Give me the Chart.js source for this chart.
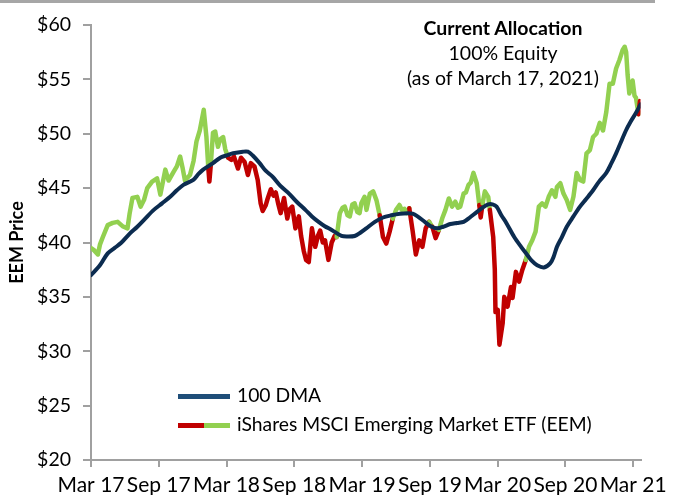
<!DOCTYPE html>
<html>
<head>
<meta charset="utf-8">
<script src="https://cdn.jsdelivr.net/npm/chart.js@4.4.0/dist/chart.umd.min.js"></script>
<style>
  body { margin: 0; background: #fff; font-family: Lato, "Open Sans", sans-serif; color: #000; }
  #wrap { position: relative; width: 673px; height: 495px; overflow: hidden; }
  #topline { position: absolute; left: 0; top: 0; width: 655px; height: 3px; background: #a6a6a6; }
  #note { position: absolute; left: 373px; top: 15px; width: 260px; text-align: center; font-size: 19.5px; line-height: 25px; }
  #note b { font-weight: 700; font-size: 19.5px; }
  .leg { position: absolute; left: 178px; font-size: 19.3px; line-height: 22px; white-space: nowrap; }
  .sw { display: inline-block; width: 52px; height: 5px; vertical-align: middle; margin-right: 7px; position: relative; top: -1px; }
</style>
</head>
<body>
<div id="wrap">
  <canvas id="chartEEM"></canvas>
  <div id="topline"></div>
  <div id="note"><b>Current Allocation</b><br>100% Equity<br>(as of March 17, 2021)</div>
  <div class="leg" style="top:384px"><span class="sw" style="background:#1f4e79"></span>100 DMA</div>
  <div class="leg" style="top:413px"><span class="sw" style="background:linear-gradient(to right,#c00000 50%,#92d050 50%)"></span>iShares MSCI Emerging Market ETF (EEM)</div>
</div>
<script>
// x = months since Mar 2017
const tickMonths = [0, 6, 12, 18, 24, 30, 36, 42, 48];
const tickLabels = ['Mar 17', 'Sep 17', 'Mar 18', 'Sep 18', 'Mar 19', 'Sep 19', 'Mar 20', 'Sep 20', 'Mar 21'];

const priceMonths = [
  0, 0.26, 0.61, 0.79, 1.05, 1.48, 1.92, 2.36, 2.79, 3.23, 3.41, 3.67, 4.10, 4.39, 4.69, 4.98,
  5.41, 5.85, 6.14, 6.58, 6.87, 7.31, 7.60, 7.89, 8.12, 8.32, 8.76, 9.08, 9.34, 9.63, 9.98, 10.22,
  10.39, 10.48, 10.61, 10.80, 11.00, 11.24, 11.44, 11.70, 11.88, 12.14, 12.43, 12.66, 13.01, 13.28,
  13.60, 13.89, 14.15, 14.47, 14.76, 15.02, 15.20, 15.46, 15.63, 15.92, 16.16, 16.36, 16.59, 16.79,
  17.09, 17.38, 17.55, 17.82, 18.10, 18.40, 18.60, 18.84, 19.04, 19.28, 19.56, 19.85, 20.09, 20.29,
  20.52, 20.72, 21.02, 21.31, 21.57, 21.75, 22.03, 22.27, 22.47, 22.71, 22.91, 23.14, 23.34, 23.58,
  23.78, 23.93, 24.22, 24.39, 24.69, 24.98, 25.27, 25.56, 25.85, 26.14, 26.44, 26.72, 27.01, 27.31,
  27.51, 27.75, 27.95, 28.18, 28.47, 28.76, 29.06, 29.34, 29.63, 29.93, 30.22, 30.51, 30.80, 31.09,
  31.38, 31.68, 31.97, 32.25, 32.49, 32.69, 32.99, 33.19, 33.42, 33.62, 33.86, 34.15, 34.38, 34.50,
  34.67, 34.87, 35.17, 35.31, 35.61, 35.75, 35.81, 36.01, 36.16, 36.29, 36.45, 36.59, 36.88, 37.18,
  37.32, 37.62, 37.90, 38.19, 38.49, 38.78, 39.07, 39.36, 39.65, 39.94, 40.24, 40.52, 40.81, 41.11,
  41.25, 41.55, 41.83, 42.12, 42.42, 42.71, 43.00, 43.29, 43.58, 43.87, 44.17, 44.45, 44.74, 45.04,
  45.33, 45.62, 45.91, 46.20, 46.49, 46.79, 47.07, 47.25, 47.38, 47.51, 47.66, 47.95, 48.12, 48.25,
  48.47, 48.60
];
const priceValues = [
  39.5, 39.3, 38.9, 39.8, 40.5, 41.6, 41.8, 41.9, 41.5, 41.3, 42.6, 44.1, 44.2, 43.3, 43.9, 45.0,
  45.6, 45.9, 44.4, 46.7, 45.7, 46.5, 47.0, 47.9, 46.8, 45.7, 46.2, 47.5, 49.3, 50.3, 52.2, 49.7,
  46.8, 45.6, 47.2, 50.1, 50.2, 48.8, 49.5, 49.7, 48.6, 47.8, 47.6, 47.9, 46.8, 47.8,
  47.4, 46.2, 47.3, 47.0, 45.75, 43.6, 42.9, 43.4, 44.0, 44.9, 44.3, 44.6, 43.5, 42.7,
  44.1, 42.2, 43.0, 43.3, 41.3, 42.4, 40.6, 39.2, 38.4, 38.2, 41.3, 39.6, 40.6, 41.1,
  40.0, 40.2, 38.4, 40.0, 40.6, 40.5, 42.7, 43.2, 43.3, 42.5, 42.4, 43.5, 43.6, 42.8,
  42.7, 43.6, 44.2, 43.0, 44.5, 44.7, 43.9, 42.5, 40.5, 39.9, 41.0, 42.2, 43.0, 43.45,
  43.0, 43.1, 42.7, 43.15, 41.1, 38.9, 40.2, 39.6, 41.3, 41.9, 41.45, 40.4, 41.15, 42.2,
  43.0, 44.05, 43.3, 43.75, 43.2, 43.3, 44.5, 44.6, 45.3, 45.5, 46.4, 45.45, 43.45, 42.3,
  43.6, 44.7, 44.2, 43.0, 40.5, 37.5, 33.6, 33.8, 30.6, 31.5, 32.6, 35.0, 34.1, 35.9,
  34.9, 37.3, 36.4, 37.5, 38.4, 39.6, 40.2, 41.0, 43.3, 43.6, 43.3, 44.2, 44.8, 44.2,
  45.1, 45.45, 44.5, 43.9, 43.0, 44.2, 46.4, 45.75, 45.6, 48.2, 48.5, 49.7, 50.0, 51.0,
  50.3, 52.0, 54.6, 54.6, 56.0, 56.8, 57.7, 58.0, 57.5, 55.4, 53.7, 54.9, 53.5, 53.3,
  51.8, 53.0
];

const dmaMonths = [
  0, 0.79, 1.48, 2.10, 2.65, 3.41, 4.10, 4.80, 5.56, 6.29, 7.01, 7.60, 8.18, 9.06, 9.52, 9.93,
  10.80, 11.44, 11.97, 12.58, 13.45, 13.89, 14.32, 14.93, 15.46, 16.07, 16.77, 17.53, 18.25, 18.98,
  19.56, 20.15, 20.70, 21.31, 22.18, 22.79, 23.34, 23.84, 24.37, 25.13, 25.85, 26.58, 27.34, 28.03,
  28.47, 28.91, 29.43, 30.07, 30.66, 31.18, 31.82, 32.40, 32.99, 33.54, 34.15, 34.67, 35.17, 35.55,
  35.90, 36.33, 36.77, 37.47, 38.08, 38.63, 39.04, 39.50, 40.09, 40.67, 40.96, 41.25, 41.69, 42.12,
  42.71, 43.29, 43.84, 44.45, 44.98, 45.62, 46.03, 46.49, 46.90, 47.36, 47.77, 48.24, 48.65
];
const dmaValues = [
  37.0, 37.9, 39.0, 39.5, 39.95, 40.8, 41.45, 42.2, 43.0, 43.6, 44.2, 44.8, 45.3, 45.75, 46.3, 46.7,
  47.3, 47.8, 48.0, 48.2, 48.35, 48.35, 48.0, 47.3, 46.6, 46.05, 45.2, 44.5, 43.7, 43.0,
  42.4, 41.9, 41.5, 41.15, 40.6, 40.55, 40.6, 40.9, 41.3, 41.9, 42.3, 42.5, 42.65, 42.7,
  42.65, 42.4, 42.0, 41.5, 41.3, 41.45, 41.7, 41.8, 41.9, 42.3, 42.8, 43.2, 43.5, 43.5,
  43.3, 42.5, 41.8, 40.5, 39.6, 38.85, 38.3, 37.9, 37.7, 38.1, 38.7, 39.6, 40.5, 41.45,
  42.4, 43.3, 44.0, 44.8, 45.6, 46.4, 47.2, 48.2, 49.2, 50.3, 51.1, 51.9, 52.7
];

const GREEN = '#92d050';
const RED = '#c00000';
const NAVY = '#0c2c50';
const AXIS = '#a0a0a0';

function dmaAt(m) {
    for (let i = 1; i < dmaMonths.length; i++) {
        if (m <= dmaMonths[i]) {
            const t = (m - dmaMonths[i - 1]) / (dmaMonths[i] - dmaMonths[i - 1]);
            return dmaValues[i - 1] + t * (dmaValues[i] - dmaValues[i - 1]);
        }
    }
    return dmaValues[dmaValues.length - 1];
}

new Chart(document.getElementById('chartEEM'), {
    type: 'line',
    data: {
        datasets: [{
            label: '100 DMA',
            data: dmaMonths.map((m, i) => ({ x: m, y: dmaValues[i] })),
            borderColor: NAVY,
            borderWidth: 4,
            pointRadius: 0,
            tension: 0.3,
            borderCapStyle: 'round',
            borderJoinStyle: 'round',
            order: 0
        }, {
            label: 'iShares MSCI Emerging Market ETF (EEM)',
            data: priceMonths.map((m, i) => ({ x: m, y: priceValues[i] })),
            borderColor: GREEN,
            borderWidth: 4.5,
            pointRadius: 0,
            tension: 0,
            borderCapStyle: 'round',
            borderJoinStyle: 'round',
            segment: {
                borderColor: ctx => {
                    const mx = (ctx.p0.parsed.x + ctx.p1.parsed.x) / 2;
                    const my = (ctx.p0.parsed.y + ctx.p1.parsed.y) / 2;
                    return my >= dmaAt(mx) ? GREEN : RED;
                }
            },
            order: 1
        }]
    },
    options: {
        responsive: true,
        maintainAspectRatio: false,
        animation: false,
        layout: { padding: { top: 25, right: 25, left: 0, bottom: 0 } },
        plugins: {
            legend: { display: false },
            tooltip: { enabled: false }
        },
        scales: {
            x: {
                type: 'linear',
                min: 0,
                max: 48.65,
                afterBuildTicks: scale => { scale.ticks = tickMonths.map(v => ({ value: v })); },
                afterFit: scale => { scale.height = 35; },
                ticks: {
                    font: { family: 'Lato', size: 21 },
                    color: '#000',
                    padding: 6,
                    maxRotation: 0,
                    autoSkip: false,
                    callback: v => tickLabels[tickMonths.indexOf(v)]
                },
                grid: { drawOnChartArea: false, color: AXIS, lineWidth: 2, tickLength: 7 },
                border: { color: AXIS, width: 2 }
            },
            y: {
                min: 20,
                max: 60,
                afterFit: scale => { scale.width = 91; },
                ticks: {
                    stepSize: 5,
                    font: { family: 'Lato', size: 19.5 },
                    color: '#000',
                    padding: 12,
                    callback: v => '$' + v
                },
                title: {
                    display: true,
                    text: 'EEM Price',
                    color: '#000',
                    font: { family: 'Lato', size: 18, weight: 'bold' },
                    padding: { top: 6, bottom: 0 }
                },
                grid: { drawOnChartArea: false, color: AXIS, lineWidth: 2, tickLength: 8 },
                border: { color: AXIS, width: 2 }
            }
        }
    }
});
</script>
</body>
</html>
